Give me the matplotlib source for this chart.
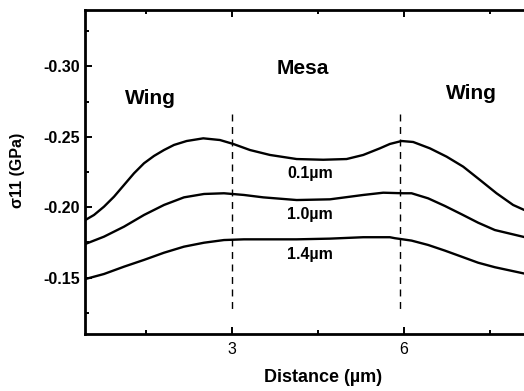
import matplotlib

matplotlib.use("Agg")
import matplotlib.pyplot as plt
from matplotlib.ticker import FixedLocator

# stress profiles sigma11 (GPa) vs distance (um)
x_01 = [0.45, 0.602, 0.776, 0.951, 1.125, 1.299, 1.473, 1.647, 1.821, 1.995,
        2.216, 2.505, 2.796, 3.028, 3.319, 3.667, 4.132, 4.595, 5.002, 5.292,
        5.582, 5.756, 5.960, 6.162, 6.453, 6.744, 7.033, 7.324, 7.614, 7.903,
        8.11]
s_01 = [-0.1909, -0.1945, -0.2004, -0.2075, -0.2158, -0.2241, -0.2312, -0.2364,
        -0.2406, -0.2442, -0.2470, -0.2489, -0.2477, -0.2449, -0.2406, -0.2371,
        -0.2342, -0.2337, -0.2342, -0.2371, -0.2418, -0.2449, -0.2470, -0.2463,
        -0.2418, -0.2359, -0.2288, -0.2194, -0.2099, -0.2016, -0.1978]

x_10 = [0.45, 0.776, 1.125, 1.473, 1.821, 2.169, 2.518, 2.866, 3.214, 3.550,
        4.132, 4.712, 5.292, 5.640, 5.988, 6.134, 6.423, 6.714, 7.005, 7.294,
        7.585, 8.11]
s_10 = [-0.1739, -0.1791, -0.1862, -0.1945, -0.2016, -0.2070, -0.2094, -0.2099,
        -0.2087, -0.2070, -0.2051, -0.2056, -0.2087, -0.2103, -0.2099, -0.2099,
        -0.2063, -0.2009, -0.1950, -0.1890, -0.1838, -0.1787]

x_14 = [0.45, 0.776, 1.125, 1.473, 1.821, 2.169, 2.518, 2.866, 3.214, 3.550,
        4.132, 4.712, 5.292, 5.756, 5.844, 6.134, 6.423, 6.714, 7.005, 7.294,
        7.585, 8.11]
s_14 = [-0.1490, -0.1526, -0.1578, -0.1626, -0.1677, -0.1720, -0.1748, -0.1767,
        -0.1772, -0.1772, -0.1772, -0.1777, -0.1787, -0.1787, -0.1780, -0.1763,
        -0.1732, -0.1692, -0.1649, -0.1606, -0.1574, -0.1528]

boundaries = [3.0, 5.94]
xticks = [3, 6]
xminor = [1.5, 4.5, 7.5]
yticks = [-0.30, -0.25, -0.20, -0.15]
yticklabels = ["-0.30", "-0.25", "-0.20", "-0.15"]
yminor = [-0.325, -0.275, -0.225, -0.175, -0.125]

plt.rcParams["font.family"] = ["Liberation Sans", "DejaVu Sans"]

fig = plt.figure(figsize=(5.24, 3.91), dpi=100)
ax = fig.add_axes([85 / 524, 57 / 391, 440 / 524, 324 / 391])

for xs, ys in ((x_01, s_01), (x_10, s_10), (x_14, s_14)):
    ax.plot(xs, ys, color="black", linewidth=1.7, solid_joinstyle="round")

for b in boundaries:
    ax.plot([b, b], [-0.266, -0.126], color="black", linewidth=1.0,
            linestyle=(0, (5, 4)))

ax.set_xlim(0.445, 8.11)
ax.set_ylim(-0.11, -0.34)

ax.xaxis.set_major_locator(FixedLocator(xticks))
ax.xaxis.set_minor_locator(FixedLocator(xminor))
ax.yaxis.set_major_locator(FixedLocator(yticks))
ax.yaxis.set_minor_locator(FixedLocator(yminor))
ax.set_yticklabels(yticklabels, fontweight="bold", fontsize=11.5)
ax.set_xticklabels([str(t) for t in xticks], fontsize=11.5)

ax.tick_params(which="both", direction="in", top=True, right=False, width=1.4)
ax.tick_params(which="major", length=5)
ax.tick_params(which="minor", length=3)
ax.tick_params(axis="x", pad=6)
ax.spines["right"].set_visible(False)
for sp in ax.spines.values():
    sp.set_linewidth(2)

bold = dict(fontweight="bold", ha="center", va="center")
ax.text(1.577, -0.2773, "Wing", fontsize=15, **bold)
ax.text(4.247, -0.2986, "Mesa", fontsize=15, **bold)
ax.text(7.179, -0.2808, "Wing", fontsize=15, **bold)
ax.text(4.363, -0.2241, "0.1µm", fontsize=11.5, **bold)
ax.text(4.363, -0.1950, "1.0µm", fontsize=11.5, **bold)
ax.text(4.363, -0.1661, "1.4µm", fontsize=11.5, **bold)

fig.text(323 / 524, 1 - 378 / 391, "Distance (µm)", fontsize=13, **bold)
fig.text(18 / 524, 1 - 170 / 391, "σ11 (GPa)", fontsize=11.5, rotation=90,
         **bold)

fig.savefig("out.png", dpi=100)
